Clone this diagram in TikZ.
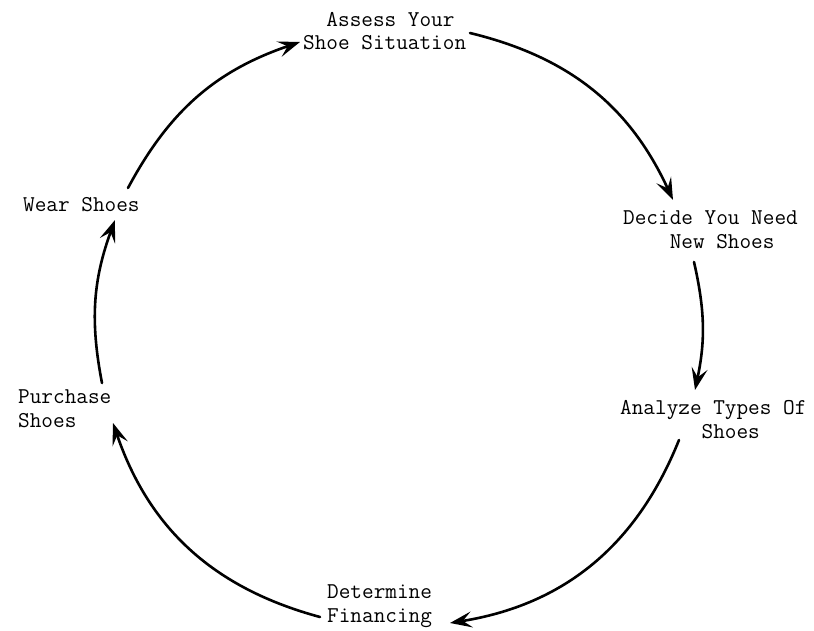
\documentclass[tikz,border=0pt]{standalone}
\usetikzlibrary{arrows.meta}
\begin{document}
\begin{tikzpicture}[x=1pt,y=-1pt,
  lbl/.style={anchor=base west, inner sep=0pt, align=left,
    font=\ttfamily\fontsize{22.6}{23.5}\selectfont},
  cyc/.style={line width=2.6pt, line cap=round,
    -{Stealth[length=22pt,width=16pt,inset=9pt]}}]
\useasboundingbox (0,0) rectangle (814,631);
% labels (base anchor = baseline of the last line)
\node[lbl] (assess) at (303,50) {\hphantom{xx}Assess Your\\Shoe Situation};
\node[lbl] (decide) at (623,248) {Decide You Need\\\hphantom{xxxx}New Shoes};
\node[lbl] (analyze) at (620,438) {Analyze Types Of\\\hphantom{xxxxxxx}Shoes};
\node[lbl] (determine) at (327,622) {Determine\\Financing};
\node[lbl] (purchase) at (18,427) {Purchase\\Shoes};
\node[lbl] (wear) at (23,212) {Wear Shoes};
% arrow ends
\coordinate (s1) at (470,33);  \coordinate (e1) at (673,200);
\coordinate (s2) at (694,262); \coordinate (e2) at (695,390);
\coordinate (s3) at (679,440); \coordinate (e3) at (450,623);
\coordinate (s4) at (320,617); \coordinate (e4) at (113,423);
\coordinate (s5) at (102,383); \coordinate (e5) at (115,220);
\coordinate (s6) at (128,188); \coordinate (e6) at (300,42);
% cycle arrows
\draw[cyc] (s1) to[bend left=25.8] (e1);
\draw[cyc] (s2) to[bend left=12.4] (e2);
\draw[cyc] (s3) to[bend left=29.5] (e3);
\draw[cyc] (s4) to[bend left=28] (e4);
\draw[cyc] (s5) to[bend left=15.5] (e5);
\draw[cyc] (s6) to[bend left=21.5] (e6);
\end{tikzpicture}
\end{document}
